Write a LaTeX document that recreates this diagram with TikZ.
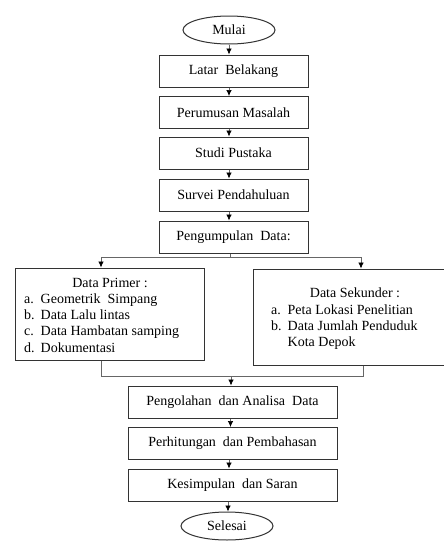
\documentclass[tikz,border=0pt]{standalone}
\usepackage{fontspec}
\setmainfont{Liberation Serif}
\usetikzlibrary{arrows.meta,shapes.geometric}
\begin{document}
\begin{tikzpicture}[x=1pt,y=-1pt,
  font=\fontsize{14}{16.3}\selectfont,
  boxA/.style={draw=black!80,line width=1pt,rectangle,minimum width=149pt,minimum height=32pt,inner sep=0pt},
  boxB/.style={draw=black!80,line width=1pt,rectangle,minimum width=209pt,minimum height=32pt,inner sep=0pt},
  term/.style={draw=black!80,line width=1pt,ellipse,minimum width=92pt,minimum height=28pt,inner sep=0pt},
  conn/.style={draw=black!60,line width=0.7pt},
  arr/.style={conn,-{Latex[length=6pt,width=5.5pt,color=black]}},
  txt/.style={inner sep=0pt,anchor=base west},
  txtc/.style={inner sep=0pt,anchor=base}]
\clip (0,0) rectangle (444,541);
\fill[white] (0,0) rectangle (444,541);

\node[term] (mulai) at (229,30) {Mulai};
\node[boxA] (latar) at (233.5,71) {Latar \ Belakang};
\node[boxA] (rumus) at (233.5,112.5) {Perumusan Masalah};
\node[boxA] (studi) at (233.5,153) {Studi Pustaka};
\node[boxA] (survei) at (233.5,195) {Survei Pendahuluan};
\node[boxA] (kumpul) at (233.5,237) {Pengumpulan \ Data:};

\node[draw=black!80,line width=1pt,rectangle,minimum width=189pt,minimum height=92pt,inner sep=0pt] (primer) at (109.5,314) {};
\node[draw=black!80,line width=1pt,rectangle,minimum width=204pt,minimum height=96pt,inner sep=0pt] (sekunder) at (355,317) {};

\node[txtc] (p0) at (110,287) {Data Primer :};
\node[txt] (p1a) at (24,303) {a.};
\node[txt] (p1) at (40.5,303) {Geometrik \ Simpang};
\node[txt] (p2a) at (24,319.5) {b.};
\node[txt] (p2) at (40.5,319.5) {Data Lalu lintas};
\node[txt] (p3a) at (24,335.8) {c.};
\node[txt] (p3) at (40.5,335.8) {Data Hambatan samping};
\node[txt] (p4a) at (24,352) {d.};
\node[txt] (p4) at (40.5,352) {Dokumentasi};

\node[txtc] (s0) at (355,297.5) {Data Sekunder :};
\node[txt] (s1a) at (271,314) {a.};
\node[txt] (s1) at (287.5,314) {Peta Lokasi Penelitian};
\node[txt] (s2a) at (271,330.3) {b.};
\node[txt] (s2) at (287.5,330.3) {Data Jumlah Penduduk};
\node[txt] (s3) at (287.5,346.6) {Kota Depok};

\node[boxB] (olah) at (232.5,402) {Pengolahan \ dan Analisa \ Data};
\node[boxB] (hitung) at (232.5,443.5) {Perhitungan \ dan Pembahasan};
\node[boxB] (simpul) at (232.5,485) {Kesimpulan \ dan Saran};
\node[term] (selesai) at (227,526) {Selesai};

\draw[arr] (mulai) -- (mulai.south |- latar.north);
\draw[arr] (latar.south -| mulai.south) -- (mulai.south |- rumus.north);
\draw[arr] (rumus.south -| mulai.south) -- (mulai.south |- studi.north);
\draw[arr] (studi.south -| mulai.south) -- (mulai.south |- survei.north);
\draw[arr] (survei.south -| mulai.south) -- (mulai.south |- kumpul.north);

\coordinate (xl) at (101,0);
\coordinate (xr) at (361,0);
\coordinate (xm) at (230.5,0);
\coordinate (split) at (230.5,257.5);
\draw[conn] (kumpul.south -| xm) -- (split);
\draw[arr] (split) -| (primer.north -| xl);
\draw[arr] (split) -| (sekunder.north -| xr);

\coordinate (merge) at (231,376.5);
\draw[conn] (primer.south -| xl) |- (merge);
\draw[conn] (sekunder.south -| 363,0) |- (merge);
\draw[arr] (merge) -- (olah.north -| merge);

\draw[arr] (olah.south -| xm) -- (hitung.north -| xm);
\draw[arr] (hitung.south -| 229,0) -- (simpul.north -| 229,0);
\draw[arr] (simpul.south -| 228,0) -- (selesai.north -| 228,0);
\end{tikzpicture}
\end{document}
